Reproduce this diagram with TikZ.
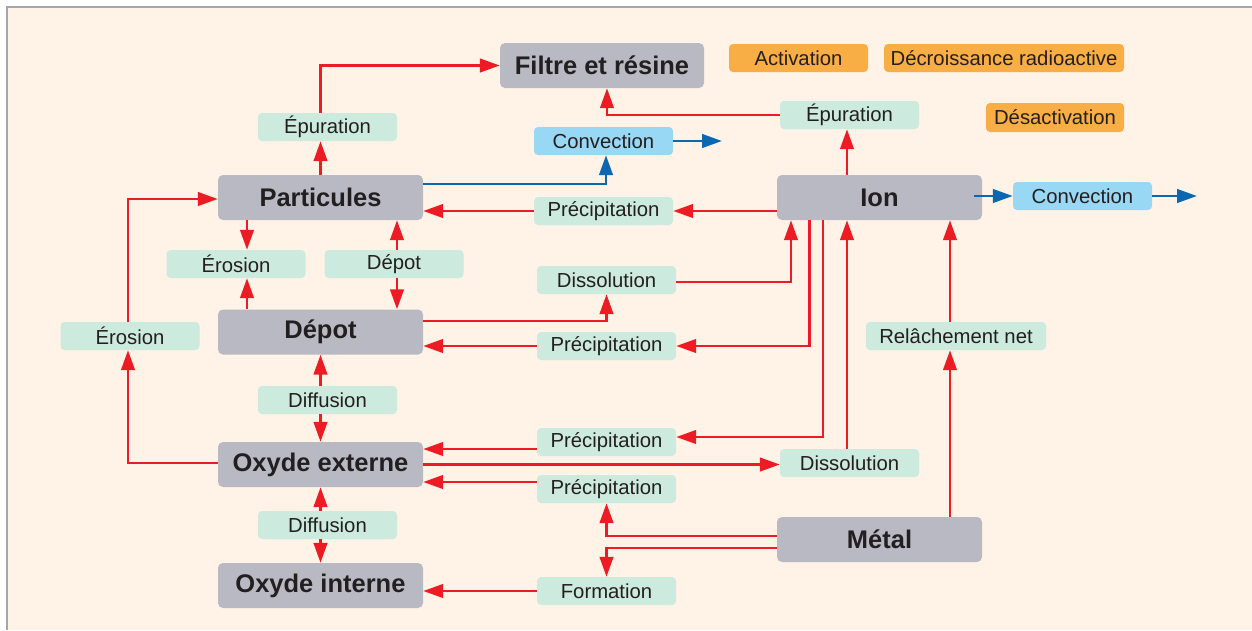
\documentclass[tikz,border=0pt]{standalone}
\usepackage{fontspec}
\setmainfont{Liberation Sans}
\usetikzlibrary{arrows.meta}
\definecolor{bgc}{HTML}{FEF3E6}
\definecolor{framec}{HTML}{A3A7AD}
\definecolor{boxc}{HTML}{B8B9C3}
\definecolor{labc}{HTML}{CDEADF}
\definecolor{orc}{HTML}{F8AE45}
\definecolor{lbc}{HTML}{98D8F4}
\definecolor{redc}{HTML}{ED1C24}
\definecolor{bluec}{HTML}{0B67B2}
\definecolor{txtc}{HTML}{231F20}
\tikzset{
  mainbox/.style={fill=boxc, rounded corners=5pt, inner sep=0pt, text=txtc,
    minimum width=205pt, minimum height=45pt, font=\bfseries\fontsize{25.5}{30}\selectfont},
  lab/.style={fill=labc, rounded corners=4pt, inner sep=0pt, text=txtc,
    minimum width=139pt, minimum height=28pt, font=\fontsize{20.3}{24}\selectfont},
  orlab/.style={lab, fill=orc},
  bllab/.style={lab, fill=lbc},
  rarr/.style={draw=redc, line width=2.8pt, -{Triangle[length=20pt,width=13.5pt]}},
  barr/.style={draw=bluec, line width=2.8pt, -{Triangle[length=20pt,width=13.5pt]}},
}
\begin{document}
\begin{tikzpicture}[x=1pt,y=-1pt]
\useasboundingbox (0,0) rectangle (1252,630);
\fill[white] (0,0) rectangle (1252,630);
\fill[bgc] (7,7) rectangle (1252,630);
\draw[framec, line width=1.5pt] (7,630) -- (7,7) -- (1252,7);

% nodes
\node[mainbox, minimum width=204pt] (filtre) at (602,65.5) {Filtre et résine};
\node[orlab] (act) at (798.5,58) {Activation};
\node[orlab, minimum width=240pt] (decr) at (1004,58) {Décroissance radioactive};
\node[orlab, minimum width=138pt, minimum height=29pt] (desact) at (1055,117.5) {Désactivation};
\node[lab] (epR) at (849.5,115) {Épuration};
\node[lab] (epL) at (327.5,127) {Épuration};
\node[bllab] (convM) at (603.5,141) {Convection};
\node[mainbox] (part) at (320.5,197.5) {Particules};
\node[mainbox] (ion) at (879.5,197.5) {Ion};
\node[bllab] (convR) at (1082.5,196) {Convection};
\node[lab] (precA) at (603.5,211) {Précipitation};
\node[lab] (eroU) at (236,264) {Érosion};
\node[lab] (depL) at (394,264) {Dépot};
\node[lab] (dissA) at (606.5,280) {Dissolution};
\node[mainbox] (depot) at (320.5,332) {Dépot};
\node[lab] (eroL) at (130,336) {Érosion};
\node[lab] (precB) at (606.5,346) {Précipitation};
\node[lab, minimum width=180pt] (relach) at (956,336) {Relâchement net};
\node[lab] (diff1) at (327.5,400) {Diffusion};
\node[mainbox] (oxE) at (320.5,464.5) {Oxyde externe};
\node[lab] (precC) at (606.5,442) {Précipitation};
\node[lab] (dissB) at (849.5,463) {Dissolution};
\node[lab] (precD) at (606.5,489) {Précipitation};
\node[mainbox] (metal) at (879.5,539.5) {Métal};
\node[lab] (diff2) at (327.5,525) {Diffusion};
\node[mainbox] (oxI) at (320.5,585.5) {Oxyde interne};
\node[lab] (form) at (606.5,591) {Formation};
\coordinate (convMend) at (722,141);
\coordinate (convRend) at (1197,196);
\coordinate (pcC) at ([yshift=-7pt]precC.west);
\coordinate (pcD) at ([yshift=7pt]precD.west);

% connectors
\draw[rarr] (part.north) -- (part.north |- epL.south);
\draw[rarr] (part.north |- epL.north) |- (filtre.west);
\draw[rarr] (epR.west) -| ([xshift=5pt]filtre.south);
\draw[rarr] ([xshift=-32.5pt]ion.north) -- ([xshift=-32.5pt]ion.north |- epR.south);
\draw[barr] ([yshift=13.5pt]part.east) -| ([xshift=2.5pt]convM.south);
\draw[barr] (convM.east) -- (convMend);
\draw[barr] ([xshift=-8pt]ion.east |- convR.west) -- (convR.west);
\draw[barr] (convR.east) -- (convRend);
\draw[rarr] (ion.west |- precA.east) -- (precA.east);
\draw[rarr] (precA.west) -- (part.east |- precA.west);
\draw[rarr] ([xshift=-73.5pt]part.south) -- ([xshift=-73.5pt]part.south |- eroU.north);
\draw[rarr] ([xshift=-73.5pt]depot.north) -- ([xshift=-73.5pt]depot.north |- eroU.south);
\draw[rarr] ([xshift=3pt]depL.north) -- ([xshift=3pt]depL.north |- part.south);
\draw[rarr] ([xshift=3pt]depL.south) -- ([xshift=3pt]depL.south |- depot.north);
\draw[rarr] ([yshift=11pt]depot.east) -| (dissA.south);
\draw[rarr] ([yshift=-2pt]dissA.east) -| ([xshift=-88.5pt]ion.south);
\draw[rarr] ([xshift=-70pt]ion.south) |- (precB.east);
\draw[rarr] (precB.west) -- (depot.east |- precB.west);
\draw[rarr] ([xshift=-56.5pt]ion.south) |- ([yshift=5pt]precC.east);
\draw[rarr] (pcC) -- (oxE.east |- pcC);
\draw[rarr] (oxE.east) -- (oxE.east -| dissB.west);
\draw[rarr] ([xshift=-2.5pt]dissB.north) -- ([xshift=-2.5pt]dissB.north |- ion.south);
\draw[rarr] (pcD) -- (oxE.east |- pcD);
\draw[rarr] ([yshift=3.5pt]metal.west) -| (precD.south);
\draw[rarr] ([yshift=-8.5pt]metal.west) -| (form.north);
\draw[rarr] (form.west) -- (oxI.east |- form.west);
\draw[rarr] ([xshift=70.5pt]metal.north) -- ([xshift=70.5pt]metal.north |- relach.south);
\draw[rarr] ([xshift=70.5pt]metal.north |- relach.north) -- ([xshift=70.5pt]ion.south);
\draw[rarr] ([xshift=-7pt]diff1.north) -- ([xshift=-7pt]diff1.north |- depot.south);
\draw[rarr] ([xshift=-7pt]diff1.south) -- ([xshift=-7pt]diff1.south |- oxE.north);
\draw[rarr] ([xshift=-7pt]diff2.north) -- ([xshift=-7pt]diff2.north |- oxE.south);
\draw[rarr] ([xshift=-7pt]diff2.south) -- ([xshift=-7pt]diff2.south |- oxI.north);
\draw[rarr] ([yshift=1.5pt]oxE.west) -| ([xshift=-2pt]eroL.south);
\draw[rarr] ([xshift=-2pt]eroL.north) |- ([yshift=-1.5pt]part.west);
\end{tikzpicture}
\end{document}
